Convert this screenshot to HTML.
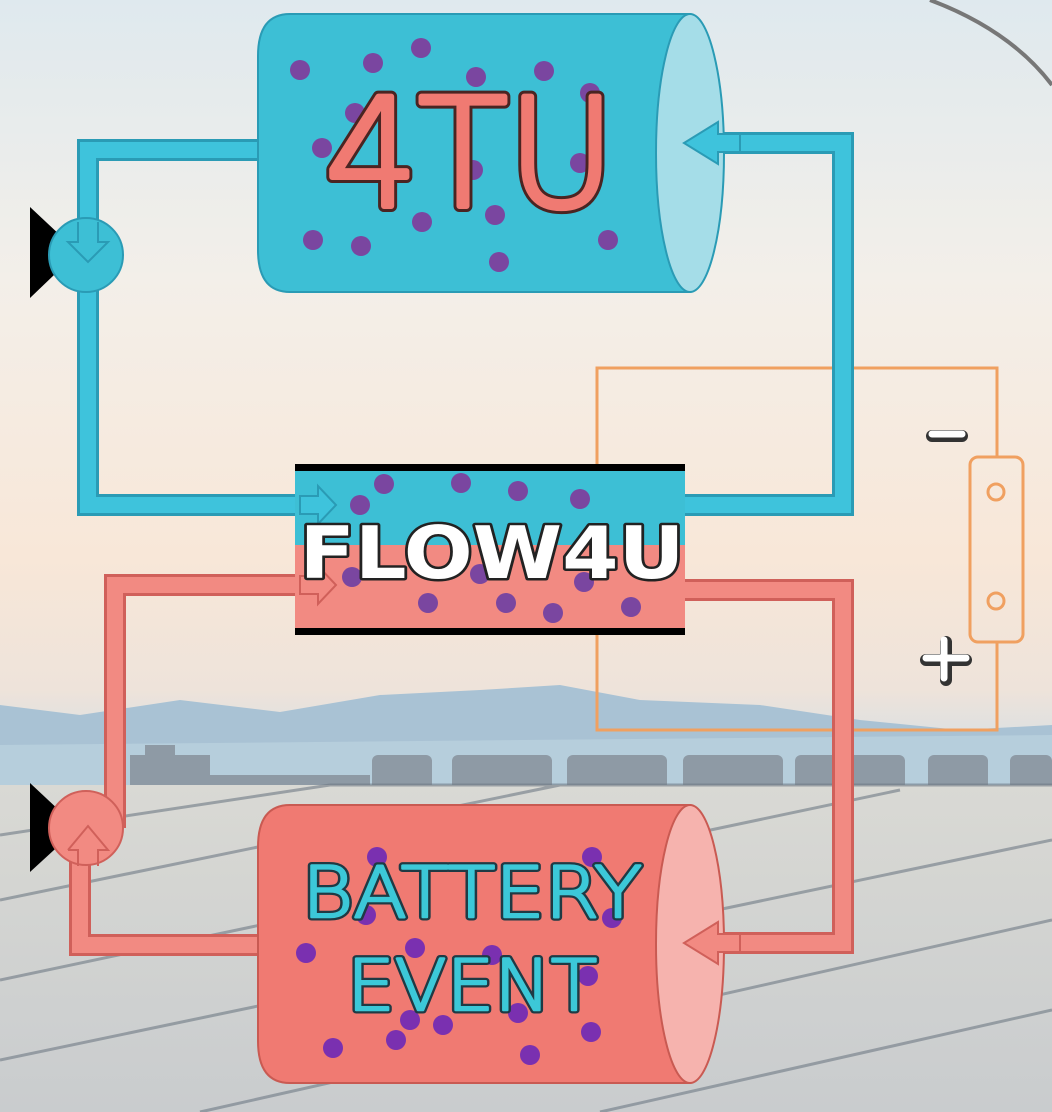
<!DOCTYPE html>
<html><head><meta charset="utf-8"><style>
html,body{margin:0;padding:0;width:1052px;height:1112px;overflow:hidden}
svg{display:block}
text{paint-order:stroke}
</style></head><body>
<svg width="1052" height="1112" viewBox="0 0 1052 1112" xmlns="http://www.w3.org/2000/svg">
<defs>
<linearGradient id="sky" x1="0" y1="0" x2="0" y2="1">
<stop offset="0" stop-color="#dfe9ee"/>
<stop offset="0.25" stop-color="#f3efe9"/>
<stop offset="0.5" stop-color="#f8e7d8"/>
<stop offset="0.62" stop-color="#eee3da"/>
<stop offset="0.68" stop-color="#d6dfe4"/>
<stop offset="1" stop-color="#c5d3dc"/>
</linearGradient>
<linearGradient id="ground" x1="0" y1="0" x2="0" y2="1">
<stop offset="0" stop-color="#d9d9d4"/>
<stop offset="1" stop-color="#c9ccce"/>
</linearGradient>
</defs>
<rect width="1052" height="1112" fill="url(#sky)"/>
<path d="M0 705 L80 715 L180 700 L280 712 L380 695 L480 690 L560 685 L640 700 L760 705 L860 720 L960 730 L1052 725 L1052 790 L0 790 Z" fill="#a9c2d4"/>
<path d="M0 745 L1052 735 L1052 790 L0 790Z" fill="#b6cedc"/>
<g fill="#8e9aa5">
<rect x="130" y="755" width="80" height="35"/><rect x="145" y="745" width="30" height="12"/>
<rect x="210" y="775" width="160" height="15"/>
<rect x="372" y="755" width="60" height="35" rx="6"/>
<rect x="452" y="755" width="100" height="35" rx="6"/>
<rect x="567" y="755" width="100" height="35" rx="6"/>
<rect x="683" y="755" width="100" height="35" rx="6"/>
<rect x="795" y="755" width="110" height="35" rx="6"/>
<rect x="928" y="755" width="60" height="35" rx="6"/>
<rect x="1010" y="755" width="42" height="35" rx="6"/>
</g>
<rect x="0" y="785" width="1052" height="327" fill="url(#ground)"/>
<g stroke="#6f7a85" stroke-width="3" opacity="0.6">
<line x1="0" y1="835" x2="330" y2="785"/><line x1="0" y1="900" x2="560" y2="785"/>
<line x1="0" y1="980" x2="900" y2="790"/><line x1="0" y1="1060" x2="1052" y2="840"/>
<line x1="200" y1="1112" x2="1052" y2="920"/><line x1="600" y1="1112" x2="1052" y2="1010"/>
<line x1="330" y1="785" x2="1052" y2="785"/>
</g>
<path d="M930 0 Q1010 30 1052 85" fill="none" stroke="#777" stroke-width="4"/>

<g fill="none" stroke="#f0a060" stroke-width="3">
<path d="M597 467 V368 H997 V457"/>
<path d="M597 632 V730 H997 V642"/>
<rect x="970" y="457" width="53" height="185" rx="8"/>
<circle cx="996" cy="492" r="8"/><circle cx="996" cy="601" r="8"/>
</g>
<g stroke="#333" stroke-width="12" stroke-linecap="round"><line x1="932" y1="436" x2="962" y2="436"/><line x1="926" y1="660" x2="966" y2="660"/><line x1="946" y1="642" x2="946" y2="680"/></g>
<g stroke="#fff" stroke-width="7" stroke-linecap="round"><line x1="932" y1="434" x2="962" y2="434"/><line x1="926" y1="658" x2="966" y2="658"/><line x1="944" y1="640" x2="944" y2="678"/></g>

<g fill="none">
<path d="M280 150 H88 V505 H320" stroke="#2a9bb5" stroke-width="22"/>
<path d="M280 150 H88 V505 H320" stroke="#3ec3dc" stroke-width="16"/>
<path d="M680 505 H843 V143 H710" stroke="#2a9bb5" stroke-width="22"/>
<path d="M680 505 H843 V143 H710" stroke="#3ec3dc" stroke-width="16"/>
<path d="M115 828 V585 H320" stroke="#d0605a" stroke-width="22"/>
<path d="M115 828 V585 H320" stroke="#f28a82" stroke-width="16"/>
<path d="M680 590 H843 V943 H710" stroke="#d0605a" stroke-width="22"/>
<path d="M680 590 H843 V943 H710" stroke="#f28a82" stroke-width="16"/>
<path d="M275 945 H80 V860" stroke="#d0605a" stroke-width="22"/>
<path d="M275 945 H80 V860" stroke="#f28a82" stroke-width="16"/>
</g>

<path d="M290 14 H690 V292 H290 Q258 292 258 250 V56 Q258 14 290 14Z" fill="#3dbfd5" stroke="#2a9bb5" stroke-width="2"/>
<ellipse cx="690" cy="153" rx="34" ry="139" fill="#a5dde8" stroke="#2a9bb5" stroke-width="2"/>
<g fill="#7a46a0">
<circle cx="300" cy="70" r="10"/><circle cx="373" cy="63" r="10"/><circle cx="421" cy="48" r="10"/><circle cx="476" cy="77" r="10"/><circle cx="544" cy="71" r="10"/><circle cx="590" cy="93" r="10"/>
<circle cx="355" cy="113" r="10"/><circle cx="322" cy="148" r="10"/><circle cx="473" cy="170" r="10"/><circle cx="580" cy="163" r="10"/>
<circle cx="313" cy="240" r="10"/><circle cx="361" cy="246" r="10"/><circle cx="422" cy="222" r="10"/><circle cx="495" cy="215" r="10"/><circle cx="499" cy="262" r="10"/><circle cx="608" cy="240" r="10"/>
</g>
<g font-family="DejaVu Sans, sans-serif" font-size="150" font-weight="300" text-anchor="middle">
<text x="470" y="206" fill="none" stroke="#4a2422" stroke-width="12" stroke-linejoin="round" textLength="290" lengthAdjust="spacingAndGlyphs">4TU</text>
<text x="470" y="206" fill="#f07a72" stroke="#f07a72" stroke-width="6" stroke-linejoin="round" textLength="290" lengthAdjust="spacingAndGlyphs">4TU</text>
</g>
<path d="M718 122 L684 143 L718 164 L718 152 L740 152 L740 134 L718 134 Z" fill="#3ec3dc" stroke="#2a9bb5" stroke-width="2"/>

<rect x="295" y="470" width="390" height="75" fill="#3dbfd5"/>
<rect x="295" y="545" width="390" height="85" fill="#f28a82"/>
<rect x="295" y="464" width="390" height="7" fill="#000"/>
<rect x="295" y="628" width="390" height="7" fill="#000"/>
<g fill="#7a46a0">
<circle cx="384" cy="484" r="10"/><circle cx="461" cy="483" r="10"/><circle cx="518" cy="491" r="10"/><circle cx="580" cy="499" r="10"/><circle cx="360" cy="505" r="10"/>
<circle cx="352" cy="577" r="10"/><circle cx="480" cy="574" r="10"/><circle cx="584" cy="582" r="10"/>
<circle cx="428" cy="603" r="10"/><circle cx="506" cy="603" r="10"/><circle cx="553" cy="613" r="10"/><circle cx="631" cy="607" r="10"/>
</g>
<path d="M300 496 H318 V486 L336 505 L318 524 V514 H300Z" fill="#3ec3dc" stroke="#2a9bb5" stroke-width="2"/>
<path d="M300 576 H318 V566 L336 585 L318 604 V594 H300Z" fill="#f28a82" stroke="#d0605a" stroke-width="2"/>
<text x="492" y="578" font-family="DejaVu Sans, sans-serif" font-size="72" font-weight="bold" fill="#fff" stroke="#222" stroke-width="5" stroke-linejoin="round" text-anchor="middle" textLength="385" lengthAdjust="spacingAndGlyphs">FLOW4U</text>

<path d="M30 207 L30 298 L78 252Z" fill="#000"/>
<circle cx="86" cy="255" r="37" fill="#3dbfd5" stroke="#2a9bb5" stroke-width="2"/>
<path d="M78 222 V242 H68 L88 262 L108 242 H98 V222" fill="none" stroke="#2a9bb5" stroke-width="2"/>
<path d="M30 783 L30 872 L78 828Z" fill="#000"/>
<circle cx="86" cy="828" r="37" fill="#f28a82" stroke="#d0605a" stroke-width="2"/>
<path d="M68 850 L88 826 L108 850 H98 V866 M78 866 V850 H68" fill="none" stroke="#d0605a" stroke-width="2"/>

<path d="M290 805 H690 V1083 H290 Q258 1083 258 1041 V847 Q258 805 290 805Z" fill="#f07a72" stroke="#c95a52" stroke-width="2"/>
<ellipse cx="690" cy="944" rx="34" ry="139" fill="#f6b3ae" stroke="#c95a52" stroke-width="2"/>
<g fill="#7a30b0">
<circle cx="377" cy="857" r="10"/><circle cx="592" cy="857" r="10"/><circle cx="306" cy="953" r="10"/><circle cx="415" cy="948" r="10"/><circle cx="492" cy="955" r="10"/><circle cx="588" cy="976" r="10"/>
<circle cx="366" cy="915" r="10"/><circle cx="612" cy="918" r="10"/><circle cx="410" cy="1020" r="10"/><circle cx="443" cy="1025" r="10"/><circle cx="518" cy="1013" r="10"/><circle cx="591" cy="1032" r="10"/>
<circle cx="333" cy="1048" r="10"/><circle cx="396" cy="1040" r="10"/><circle cx="530" cy="1055" r="10"/>
</g>
<g font-family="DejaVu Sans, sans-serif" font-size="70" font-weight="300" text-anchor="middle" stroke-linejoin="round">
<text x="472" y="917" fill="none" stroke="#1f3a44" stroke-width="7" textLength="340" lengthAdjust="spacingAndGlyphs">BATTERY</text>
<text x="472" y="917" fill="#3cc8d8" stroke="#3cc8d8" stroke-width="2.5" textLength="340" lengthAdjust="spacingAndGlyphs">BATTERY</text>
<text x="472" y="1010" fill="none" stroke="#1f3a44" stroke-width="7" textLength="250" lengthAdjust="spacingAndGlyphs">EVENT</text>
<text x="472" y="1010" fill="#3cc8d8" stroke="#3cc8d8" stroke-width="2.5" textLength="250" lengthAdjust="spacingAndGlyphs">EVENT</text>
</g>
<path d="M718 922 L684 943 L718 964 L718 952 L740 952 L740 934 L718 934 Z" fill="#f28a82" stroke="#d0605a" stroke-width="2"/>
</svg>
</body></html>
